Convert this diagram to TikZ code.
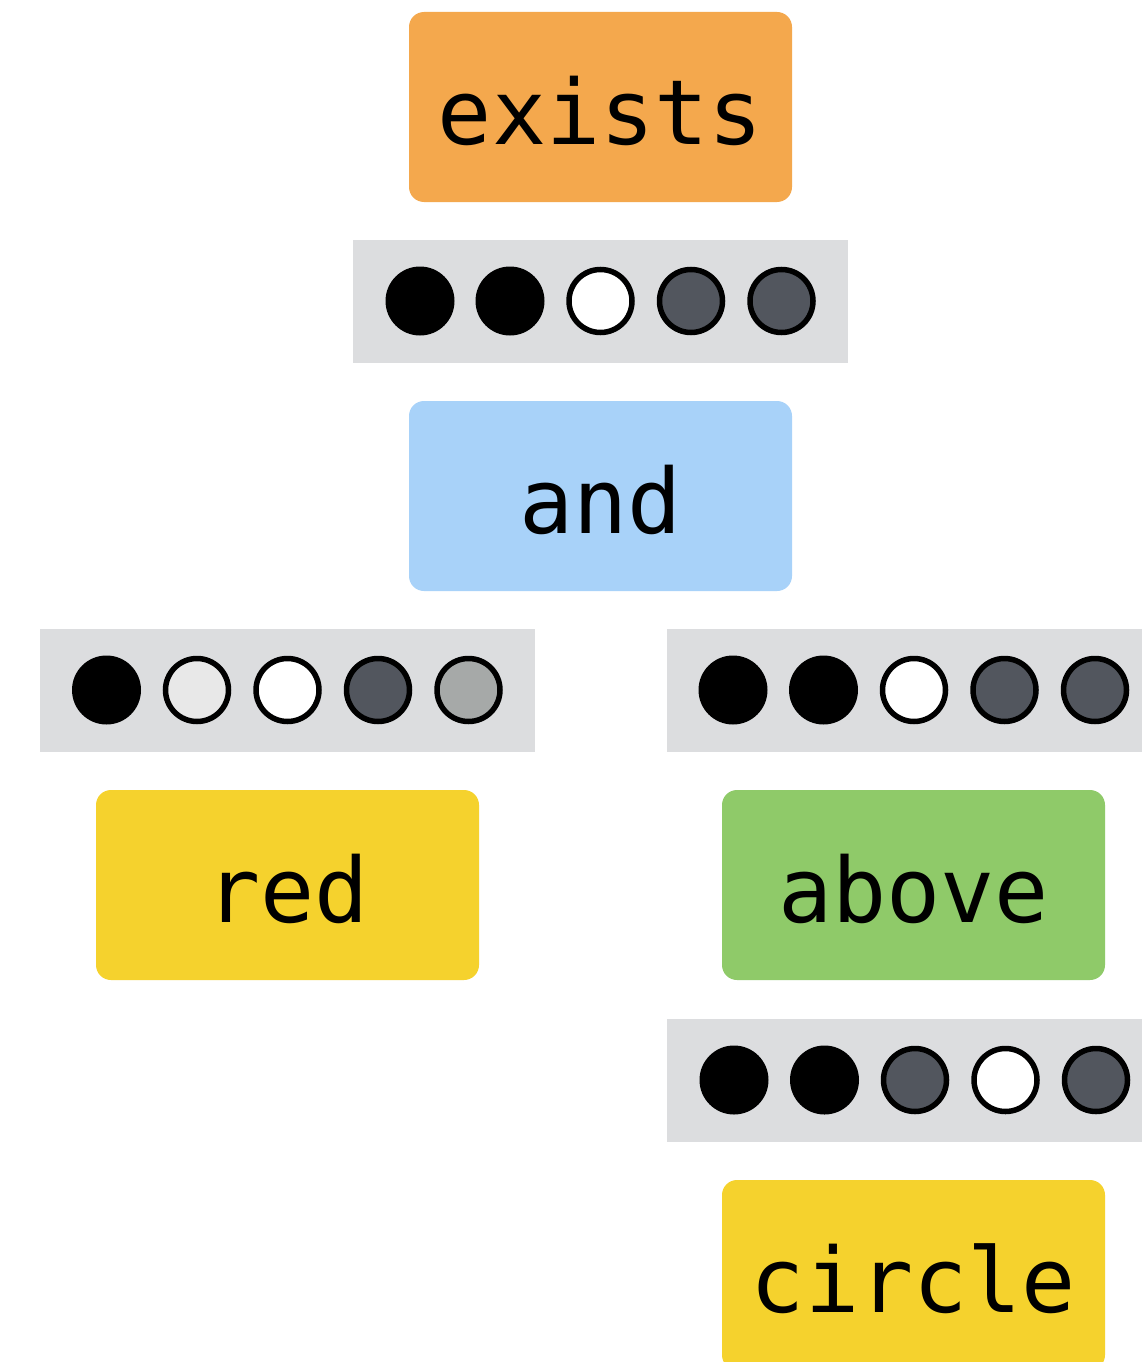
\documentclass[tikz,border=0pt]{standalone}
\usepackage{fontspec}
\setmonofont{DejaVu Sans Mono}
\definecolor{cOrange}{HTML}{F4A84D}
\definecolor{cBlue}{HTML}{A8D2F9}
\definecolor{cYellow}{HTML}{F5D22D}
\definecolor{cGreen}{HTML}{8FCA69}
\definecolor{cBar}{HTML}{DCDDDF}
\definecolor{cDark}{HTML}{52565E}
\definecolor{cMid}{HTML}{A6A9A8}
\definecolor{cLight}{HTML}{E8E8E8}
\tikzset{
  wordbox/.style={rectangle, rounded corners=15pt, minimum width=383pt, minimum height=190pt,
    inner sep=0pt, text height=74pt, text depth=0pt,
    font=\ttfamily\fontsize{90}{90}\selectfont},
  barbox/.style={rectangle, fill=cBar, minimum width=#1, minimum height=123pt, inner sep=0pt},
  dotB/.style={circle, fill=black, minimum size=69pt, inner sep=0pt},
  dotO/.style={circle, fill=#1, draw=black, line width=5.5pt, minimum size=63pt, inner sep=0pt},
}
\begin{document}
\begin{tikzpicture}[x=1pt,y=-1pt]
\path[use as bounding box] (0,0) rectangle (1142,1362);
\clip (0,0) rectangle (1142,1362);
\fill[white] (0,0) rectangle (1142,1362);

% word boxes
\node[wordbox, fill=cOrange] (exists) at (600.5,107) {exists};
\node[wordbox, fill=cBlue] (and) at (600.5,496) {and};
\node[wordbox, fill=cYellow] (red) at (287.5,885) {red};
\node[wordbox, fill=cGreen] (above) at (913.5,885) {above};
\node[wordbox, fill=cYellow] (circle) at (913.5,1275) {circle};

% bar 1
\node[barbox=495pt] (bar1) at (600.5,301.5) {};
\node[dotB] (b1a) at (420,301) {};
\node[dotB] (b1b) at (510,301) {};
\node[dotO=white] (b1c) at (600.5,301) {};
\node[dotO=cDark] (b1d) at (691,301) {};
\node[dotO=cDark] (b1e) at (781.5,301) {};

% bar left
\node[barbox=495pt] (bar2) at (287.5,690.5) {};
\node[dotB] (b2a) at (106.5,690) {};
\node[dotO=cLight] (b2b) at (197,690) {};
\node[dotO=white] (b2c) at (287.5,690) {};
\node[dotO=cDark] (b2d) at (378,690) {};
\node[dotO=cMid] (b2e) at (468.5,690) {};

% bar right
\node[barbox=495pt] (bar3) at (914.5,690.5) {};
\node[dotB] (b3a) at (733,690) {};
\node[dotB] (b3b) at (823.5,690) {};
\node[dotO=white] (b3c) at (914,690) {};
\node[dotO=cDark] (b3d) at (1004.5,690) {};
\node[dotO=cDark] (b3e) at (1095,690) {};

% bar bottom
\node[barbox=495pt] (bar4) at (914.5,1080) {};
\node[dotB] (b4a) at (734,1080) {};
\node[dotB] (b4b) at (824.5,1080) {};
\node[dotO=cDark] (b4c) at (915,1080) {};
\node[dotO=white] (b4d) at (1005.5,1080) {};
\node[dotO=cDark] (b4e) at (1096,1080) {};
\end{tikzpicture}
\end{document}
